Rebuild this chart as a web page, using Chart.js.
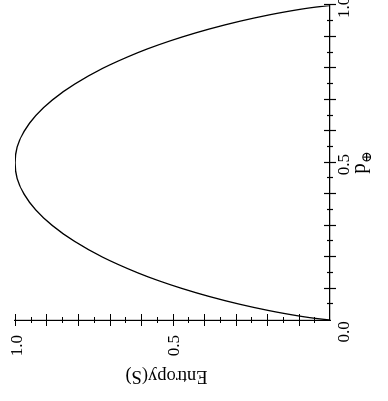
<!DOCTYPE html>
<html><head><meta charset="utf-8">
<script src="https://cdn.jsdelivr.net/npm/chart.js@4"></script>
<style>
html,body{margin:0;padding:0;background:#fff;overflow:hidden;width:388px;height:401px}
#wrap{position:absolute;left:0;top:0;width:401px;height:388px;transform-origin:0 0;transform:translateY(401px) rotate(-90deg)}
</style></head><body>
<div id="wrap"><canvas id="c"></canvas></div>
<script>
// p(+) values and entropy
const pValues = [0, 0.005, 0.01, 0.02, 0.03, 0.05, 0.075, 0.1, 0.125, 0.15, 0.2, 0.25, 0.3, 0.35, 0.4, 0.45, 0.5, 0.55, 0.6, 0.65, 0.7, 0.75, 0.8, 0.85, 0.875, 0.9, 0.925, 0.95, 0.97, 0.98, 0.99, 0.995, 1];
const entropyValues = [0, 0.045, 0.081, 0.141, 0.194, 0.286, 0.384, 0.469, 0.544, 0.610, 0.722, 0.811, 0.881, 0.934, 0.971, 0.993, 1.0, 0.993, 0.971, 0.934, 0.881, 0.811, 0.722, 0.610, 0.544, 0.469, 0.384, 0.286, 0.194, 0.141, 0.081, 0.045, 0];
const xTickLabels = ['', '0.5', '1.0'];
const yTickLabels = ['', '0.5', '1.0'];
const originLabel = '0.0';
const xAxisTitle = 'p';
const xAxisSubscript = '\u2295';
const yAxisTitle = 'Entropy(S)';

const FONT = "'Liberation Serif', 'DejaVu Serif', serif";

function labelFor(v, labels) {
  const c = Math.round(v * 100);
  return c % 50 === 0 ? labels[c / 50] : '';
}

const tickPlugin = {
  id: 'tickmarks',
  afterDraw(chart) {
    const ctx = chart.ctx;
    const xs = chart.scales.x, ys = chart.scales.y;
    const area = chart.chartArea;
    ctx.save();
    ctx.strokeStyle = '#000';
    ctx.lineWidth = 1.2;
    ctx.beginPath();
    xs.ticks.forEach(t => {
      const c = Math.round(t.value * 100);
      if (c === 0) return;
      const len = c % 10 === 0 ? 6 : 3;
      const px = Math.round(xs.getPixelForValue(t.value)) + 0.5;
      ctx.moveTo(px, area.bottom - len); ctx.lineTo(px, area.bottom + len);
    });
    ys.ticks.forEach(t => {
      const c = Math.round(t.value * 100);
      if (c === 0) return;
      const len = c % 10 === 0 ? 6 : 3;
      const py = Math.round(ys.getPixelForValue(t.value)) + 0.5;
      ctx.moveTo(area.left - len, py); ctx.lineTo(area.left + len, py);
    });
    ctx.stroke();
    ctx.fillStyle = '#000';
    // shared origin label
    ctx.font = '17px ' + FONT;
    ctx.textAlign = 'center';
    ctx.textBaseline = 'middle';
    ctx.fillText(originLabel, xs.getPixelForValue(0) - 12, area.bottom + 15);
    // y axis title (drawn rotated)
    ctx.save();
    ctx.font = '18.5px ' + FONT;
    ctx.translate(25.5, ys.getPixelForValue(0.5) - 6);
    ctx.rotate(-Math.PI / 2);
    ctx.fillText(yAxisTitle, 0, 0);
    ctx.restore();
    // x axis title with subscript
    const cx = (area.left + area.right) / 2;
    const by = area.bottom + 35;
    ctx.textBaseline = 'alphabetic';
    ctx.textAlign = 'left';
    ctx.font = '21px ' + FONT;
    const wp = ctx.measureText(xAxisTitle).width;
    ctx.font = '14px ' + FONT;
    const ws = ctx.measureText(xAxisSubscript).width;
    const start = cx - (wp + ws) / 2;
    ctx.font = '21px ' + FONT;
    ctx.fillText(xAxisTitle, start, by);
    ctx.font = '14px ' + FONT;
    ctx.fillText(xAxisSubscript, start + wp + 0.5, by + 6);
    ctx.restore();
  }
};

new Chart(document.getElementById('c'), {
  type: 'line',
  data: {
    datasets: [{
      data: pValues.map((p, i) => ({x: p, y: entropyValues[i]})),
      borderColor: '#000',
      borderWidth: 1.3,
      pointRadius: 0,
      fill: false,
      cubicInterpolationMode: 'monotone'
    }]
  },
  options: {
    responsive: true,
    maintainAspectRatio: false,
    animation: false,
    devicePixelRatio: 1,
    layout: {padding: {top: 15, right: 5.5, left: 0, bottom: 0}},
    plugins: {legend: {display: false}, tooltip: {enabled: false}},
    scales: {
      x: {
        type: 'linear', min: 0, max: 1,
        afterFit(s) { s.height = 58; s.paddingLeft = 0; s.paddingRight = 0; },
        grid: {display: false, drawTicks: false},
        border: {display: true, color: '#000', width: 1.2},
        ticks: {
          stepSize: 0.05, autoSkip: false, maxRotation: 0, padding: 4, labelOffset: -2,
          color: '#000', font: {family: FONT, size: 17},
          callback: v => labelFor(v, xTickLabels)
        }
      },
      y: {
        type: 'linear', min: 0, max: 1,
        afterFit(s) { s.width = 81; s.paddingTop = 0; s.paddingBottom = 0; },
        grid: {display: false, drawTicks: false},
        border: {display: true, color: '#000', width: 1.2},
        ticks: {
          stepSize: 0.05, autoSkip: false, padding: 15, labelOffset: 2.5,
          color: '#000', font: {family: FONT, size: 17},
          callback: v => labelFor(v, yTickLabels)
        },
        title: {display: false}
      }
    }
  },
  plugins: [tickPlugin]
});
</script>
</body></html>
